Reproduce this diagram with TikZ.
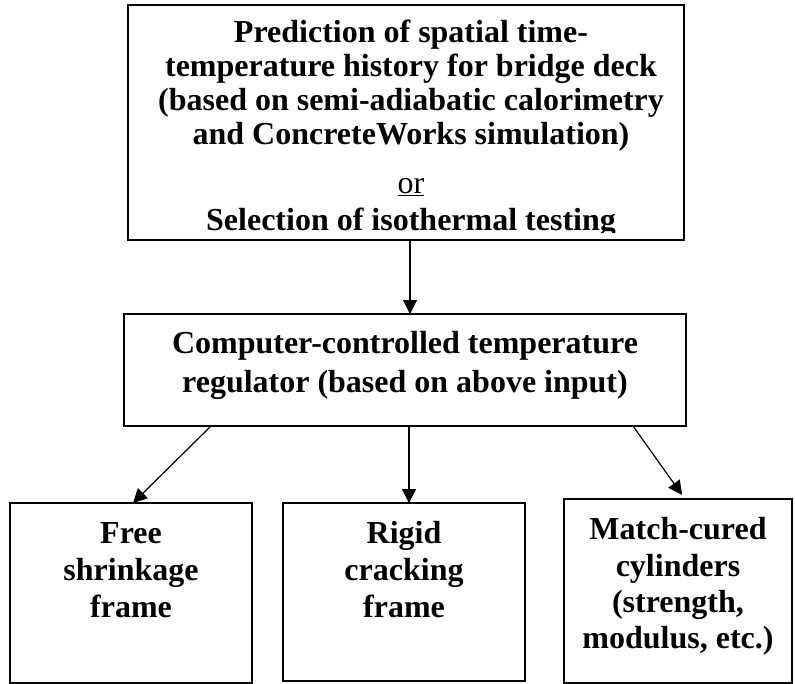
\documentclass[tikz,border=0pt]{standalone}
\usepackage{fontspec}
\setmainfont{Liberation Serif}
\usetikzlibrary{arrows.meta,calc}
\begin{document}
\begin{tikzpicture}[x=1pt,y=-1pt,
  box/.style={draw, line width=1.6pt, inner sep=0pt, outer sep=0pt},
  txt/.style={anchor=base, inner sep=0pt, font=\fontsize{32}{37}\selectfont\bfseries},
  txtr/.style={anchor=base, inner sep=0pt, font=\fontsize{32}{37}\selectfont},
  arr/.style={line width=1.2pt, -{Triangle[length=14pt,width=14pt]}}]
\useasboundingbox (0,0) rectangle (795,683);
% boxes
\node[box, minimum width=556pt, minimum height=235pt] (top) at (406,122.5) {};
\node[box, minimum width=562pt, minimum height=112pt] (mid) at (405,370) {};
\node[box, minimum width=242pt, minimum height=180pt] (b1) at (131,593) {};
\node[box, minimum width=242pt, minimum height=178pt] (b2) at (404,592) {};
\node[box, minimum width=228pt, minimum height=184pt] (b3) at (678,591) {};
% top text
\node[txt] (t1) at (411,42) {Prediction of spatial time-};
\node[txt] (t2) at (411,76) {temperature history for bridge deck};
\node[txt] (t3) at (411,110) {(based on semi-adiabatic calorimetry};
\node[txt] (t4) at (411,144) {and ConcreteWorks simulation)};
\node[txtr] (t5) at (411,193) {\underline{or}};
\begin{scope}
\clip (0,0) rectangle (795,232);
\node[txt] (t6) at (411,230) {Selection of isothermal testing};
\end{scope}
% middle text
\node[txt] (m1) at (405,353) {Computer-controlled temperature};
\node[txt] (m2) at (405,392) {regulator (based on above input)};
% bottom texts
\node[txt] (l1) at (131,543) {Free};
\node[txt] (l2) at (131,580) {shrinkage};
\node[txt] (l3) at (131,617) {frame};
\node[txt] (c1) at (404,543) {Rigid};
\node[txt] (c2) at (404,580) {cracking};
\node[txt] (c3) at (404,617) {frame};
\node[txt] (r1) at (678,539) {Match-cured};
\node[txt] (r2) at (678,576) {cylinders};
\node[txt] (r3) at (678,612) {(strength,};
\node[txt] (r4) at (678,648) {modulus, etc.)};
% arrows
\draw[arr] ([xshift=4pt]top.south) -- ([xshift=5pt]mid.north);
\draw[arr] ([xshift=-194pt]mid.south) -- ([xshift=2pt]b1.north);
\draw[arr] ([xshift=4pt]mid.south) -- ([xshift=5pt]b2.north);
\draw[arr, shorten >=5pt] ([xshift=228pt]mid.south) -- ([xshift=7pt]b3.north);
\end{tikzpicture}
\end{document}
